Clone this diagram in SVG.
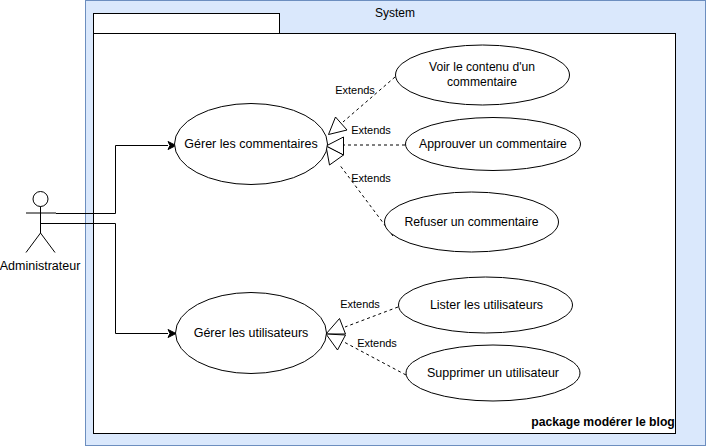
<svg xmlns="http://www.w3.org/2000/svg" width="706" height="446" viewBox="0 0 706 446">
<style>
text{font-family:"Liberation Sans",Arial,sans-serif;font-size:12.5px;fill:#000;text-anchor:middle}
.e{font-size:11px}
.n{font-size:12.25px}
.s{fill:#fff;stroke:#000;stroke-width:1}
.l{fill:none;stroke:#000;stroke-width:1}
.d{fill:none;stroke:#000;stroke-width:1;stroke-dasharray:3 3}
.h{fill:#fff;stroke:#000;stroke-width:1}
</style>
<rect width="706" height="446" fill="#fff"/>
<g id="system"><rect x="85.500" y="0.500" width="620" height="445" fill="#dae8fc" stroke="#6c8ebf"/><text x="395" y="17" style="font-size:12px">System</text></g>
<g id="package"><rect class="s" x="93.500" y="13.500" width="186" height="20"/><rect class="s" x="93.500" y="33.500" width="582" height="400"/><text x="603" y="426" style="font-weight:bold;font-size:12.2px">package modérer le blog</text></g>
<g id="connectors">
<path class="l" d="M56 213.500H115.500V145.500H168"/><path d="M176 145.500l-8-4 2 4-2 4z" fill="#000" stroke="#000"/>
<path class="l" d="M40.500 223.500H115.500V333.500H168"/><path d="M176 333.500l-8-4 2 4-2 4z" fill="#000" stroke="#000"/>
<path class="d" d="M395 77L343 122"/>
<path class="h" d="M328.500 134.500L335.500 117 347 130z"/>
<path class="d" d="M405 145H344"/><path class="h" d="M326 146L343.500 137V155z"/>
<path class="d" d="M393 236L339 164"/><path class="h" d="M326 146L343.500 155 329.500 165z"/>
<path class="d" d="M398 307L345 327"/><path class="h" d="M326 334L339.500 318.500 345.500 334z"/>
<path class="d" d="M406 375L344 342"/><path class="h" d="M326 334L345.500 335 337.500 350z"/>
</g>
<g id="actor"><circle class="s" cx="40.500" cy="199" r="7.500"/><path class="l" d="M40.500 206.500V233M26 213H56M26 252.500L40.500 233 55 252.500"/><text x="40" y="270">Administrateur</text></g>
<g id="gerer-commentaires"><ellipse class="s" cx="251" cy="144" rx="76.500" ry="40.500"/><text x="251" y="148">Gérer les commentaires</text></g>
<g id="gerer-utilisateurs"><ellipse class="s" cx="251" cy="333" rx="75.500" ry="40.500"/><text x="251" y="337">Gérer les utilisateurs</text></g>
<g id="voir"><ellipse class="s" cx="482.500" cy="75" rx="87" ry="30"/><text x="482" y="71" style="font-size:12.1px">Voir le contenu d'un</text><text x="482" y="86" style="font-size:12.1px">commentaire</text></g>
<g id="approuver"><ellipse class="s" cx="493" cy="144" rx="87.500" ry="26.500"/><text class="n" x="493" y="148">Approuver un commentaire</text></g>
<g id="refuser"><ellipse class="s" cx="471.500" cy="222" rx="87" ry="30"/><text class="n" x="471.500" y="226">Refuser un commentaire</text></g>
<g id="lister"><ellipse class="s" cx="485.500" cy="305" rx="87" ry="28"/><text x="486.500" y="309">Lister les utilisateurs</text></g>
<g id="supprimer"><ellipse class="s" cx="493" cy="373" rx="87" ry="28"/><text x="493" y="377">Supprimer un utilisateur</text></g>
<g id="labels"><text class="e" x="355" y="94">Extends</text><text class="e" x="371" y="134">Extends</text><text class="e" x="371" y="182">Extends</text><text class="e" x="360" y="308">Extends</text><text class="e" x="377" y="347">Extends</text></g>
</svg>
